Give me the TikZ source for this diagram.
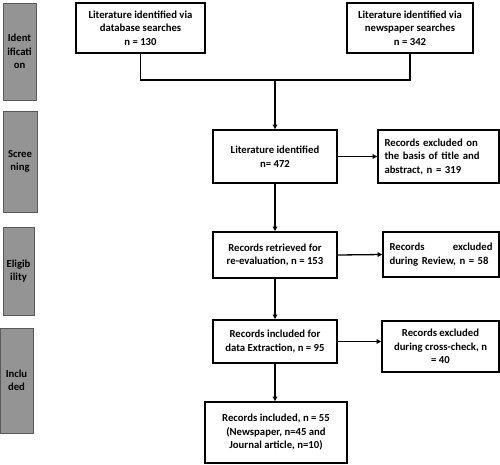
\documentclass[tikz,border=0pt]{standalone}
\usepackage{fontspec}
\setmainfont{Carlito}[BoldFont={Carlito Bold}]
\usetikzlibrary{arrows.meta}
\begin{document}
\begin{tikzpicture}[x=1pt,y=-1pt,
  box/.style={draw=black,line width=1.6pt,fill=white,inner sep=3pt,font=\fontsize{10.7}{13.5}\selectfont\bfseries,align=center},
  stage/.style={draw=black!65,line width=1pt,fill=black!42,inner sep=0pt,font=\fontsize{10.7}{13.5}\selectfont\bfseries,align=center},
  conn/.style={line width=1.3pt},
  arr/.style={line width=1.3pt,-{Triangle[length=4.5pt,width=4.5pt]}}]
\useasboundingbox (0,0) rectangle (500,464);
% stage bars
\node[stage,minimum width=33pt,minimum height=97pt] (s1) at (19.5,51.5) {Ident\\ificati\\on};
\node[stage,minimum width=34pt,minimum height=101pt] (s2) at (20,161.5) {Scree\\ning};
\node[stage,minimum width=31pt,minimum height=88pt] (s3) at (18.5,271) {Eligib\\ility};
\node[stage,minimum width=33pt,minimum height=105pt] (s4) at (16.5,380.5) {Inclu\\ded};
% boxes
\node[box,minimum width=129pt,minimum height=50pt] (db) at (140.5,28) {Literature identified via\\database searches\\n = 130};
\node[box,minimum width=126pt,minimum height=50pt] (np) at (410,28) {Literature identified via\\newspaper searches\\n = 342};
\node[box,minimum width=124pt,minimum height=53pt] (lit) at (275,156.5) {Literature identified\\n= 472};
\node[box,minimum width=121pt,minimum height=53pt,text width=108pt,align=left] (ex1) at (438.5,156.5) {Records excluded on\\the basis of title and\\abstract, n = 319};
\node[box,minimum width=124pt,minimum height=46pt] (ret) at (275,255) {Records retrieved for\\re-evaluation, n = 153};
\node[box,minimum width=116pt,minimum height=45pt,text width=103pt,align=left] (ex2) at (441,254.5) {Records \hfill excluded\\during Review, n = 58};
\node[box,minimum width=124pt,minimum height=43pt] (inc) at (275,341.5) {Records included for\\data Extraction, n = 95};
\node[box,minimum width=117pt,minimum height=51pt] (ex3) at (440.5,346.5) {Records excluded\\during cross-check, n\\= 40};
\node[box,minimum width=142pt,minimum height=61pt] (fin) at (276,432.5) {Records included, n = 55\\(Newspaper, n=45 and\\Journal article, n=10)};
% connectors
\coordinate (j1) at (140.5,80);
\coordinate (j2) at (410,80);
\coordinate (jm) at (275,80);
\draw[conn] (db.south) -- (j1) -- (j2) -- (np.south);
\draw[arr] (jm) -- (lit.north);
\draw[arr] (lit.east) -- (ex1.west);
\draw[arr] (lit.south) -- (ret.north);
\draw[arr] (ret.east) -- (ex2.west);
\draw[arr] (ret.south) -- (inc.north);
\draw[arr] (inc.east) -- (ex3.west |- inc.east);
\draw[arr] (inc.south) -- (fin.north -| inc.south);
\end{tikzpicture}
\end{document}
